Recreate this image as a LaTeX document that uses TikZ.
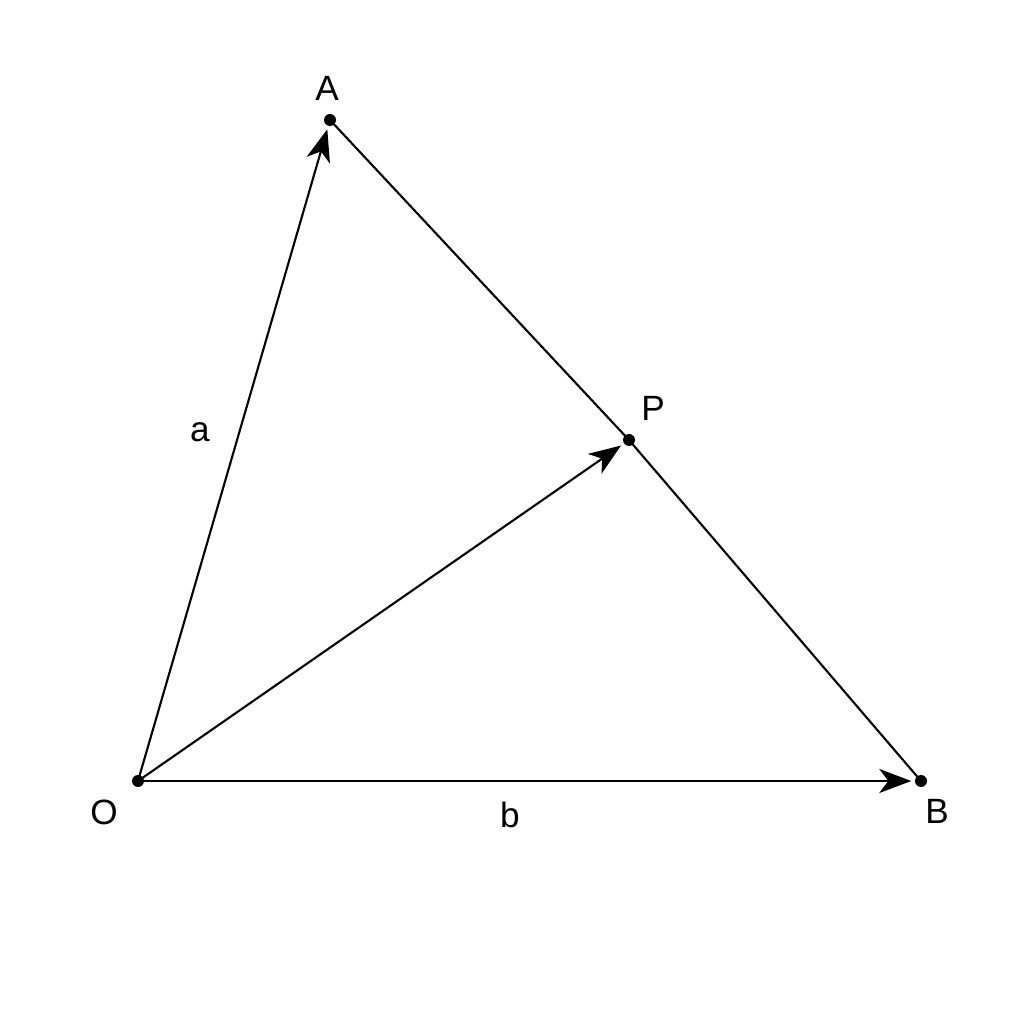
\documentclass[tikz,border=0pt]{standalone}
\usepackage{fontspec}
\setmainfont{Liberation Sans}
\usetikzlibrary{
arrows.meta,
positioning
}
\tikzset{>={Stealth[length=3.2mm,width=2.4mm,inset=0.9mm]}}

\begin{document}
\begin{tikzpicture}[scale=1.0, every node/.style={font=\fontsize{10}{12}\selectfont},
	pt/.style={circle,fill=black,inner sep=0pt,minimum size=1.2mm},
	vec/.style={->,line width=0.6pt,shorten >=0.3mm},
	seg/.style={line width=0.6pt}]
	\useasboundingbox (0,0) rectangle (10.24,10.24);
	% points
	\node[pt] (O) at (1.38,2.43) {};
	\node[pt] (A) at (3.30,9.04) {};
	\node[pt] (P) at (6.29,5.84) {};
	\node[pt] (B) at (9.21,2.43) {};
	% vectors and sides
	\draw[vec] (O.center) -- (A);
	\draw[vec] (O.center) -- (P);
	\draw[vec] (O.center) -- (B);
	\draw[seg] (A.center) -- (P.center) -- (B.center);
	% labels
	\node (lA) at (3.27,9.36) {A};
	\node (lP) at (6.53,6.16) {P};
	\node (lO) at (1.04,2.12) {O};
	\node (lB) at (9.37,2.13) {B};
	\node (la) at (2.00,5.92) {a};
	\node (lb) at (5.10,2.09) {b};
\end{tikzpicture}
\end{document}
